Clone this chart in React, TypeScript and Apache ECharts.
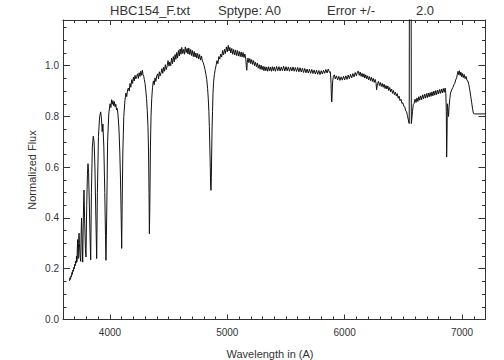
import React, { useEffect, useRef } from "react";
import * as echarts from "echarts";

// ---- Data (wavelength in Å, normalized flux) ----
const balmerSeries: [number, number][] = [
  [3655, 0.152], [3660, 0.165], [3664, 0.158], [3668, 0.172], [3672, 0.168], [3676, 0.185],
  [3680, 0.178], [3684, 0.195], [3688, 0.19], [3692, 0.205], [3696, 0.2], [3700, 0.218],
  [3704, 0.212], [3708, 0.23], [3712, 0.222], [3716, 0.25], [3719, 0.228], [3722, 0.28],
  [3725, 0.315], [3729, 0.24], [3733, 0.3], [3737, 0.34], [3740, 0.3], [3745, 0.25],
  [3751, 0.229], [3754, 0.32], [3758, 0.4], [3762, 0.33], [3766, 0.25], [3768, 0.226],
  [3772, 0.36], [3776, 0.47], [3779, 0.51], [3785, 0.38], [3791, 0.28], [3796, 0.246],
  [3802, 0.45], [3808, 0.57], [3813, 0.614], [3818, 0.58], [3826, 0.42], [3832, 0.3],
  [3836, 0.235], [3842, 0.5], [3850, 0.68], [3858, 0.722], [3865, 0.7], [3872, 0.6],
  [3880, 0.4], [3887, 0.24], [3893, 0.5], [3902, 0.72], [3912, 0.8], [3921, 0.818],
  [3928, 0.79], [3934, 0.74], [3940, 0.77], [3948, 0.68], [3956, 0.5], [3962, 0.33],
  [3966, 0.233], [3972, 0.4], [3980, 0.7], [3990, 0.81], [4001, 0.85], [4008, 0.835],
  [4014, 0.866], [4020, 0.848], [4026, 0.862], [4032, 0.842], [4038, 0.858], [4044, 0.838],
  [4050, 0.848], [4056, 0.826], [4062, 0.832], [4068, 0.81], [4077, 0.75], [4084, 0.66],
  [4090, 0.55], [4096, 0.4], [4100, 0.28], [4104, 0.45], [4110, 0.66], [4118, 0.8],
];

const blueContinuum: [number, number][] = [
  [4128, 0.864], [4136, 0.892], [4143, 0.878], [4150, 0.905], [4157, 0.912], [4164, 0.9],
  [4171, 0.93], [4178, 0.915], [4186, 0.945], [4193, 0.93], [4200, 0.955], [4207, 0.94],
  [4214, 0.962], [4221, 0.948], [4228, 0.958], [4235, 0.968], [4242, 0.95], [4249, 0.972],
  [4256, 0.958], [4263, 0.978], [4270, 0.962], [4276, 0.982], [4282, 0.965], [4288, 0.958],
  [4293, 0.945], [4299, 0.93], [4306, 0.9], [4312, 0.87], [4318, 0.824], [4324, 0.76],
  [4329, 0.66], [4333, 0.5], [4336, 0.338], [4340, 0.45], [4345, 0.68], [4350, 0.8],
  [4356, 0.87], [4363, 0.915], [4370, 0.94], [4377, 0.925], [4384, 0.952], [4391, 0.938],
  [4399, 0.96], [4407, 0.968], [4414, 0.948], [4421, 0.976], [4428, 0.96], [4436, 0.972],
  [4443, 0.988], [4450, 0.97], [4458, 0.994], [4465, 0.978], [4472, 1.004], [4480, 0.985],
  [4488, 1.0], [4495, 1.02], [4503, 0.998], [4510, 1.014], [4518, 1.0], [4525, 1.03],
  [4533, 1.008], [4540, 1.036], [4548, 1.015], [4555, 1.044], [4562, 1.025], [4569, 1.052],
  [4576, 1.03], [4584, 1.06], [4591, 1.038], [4598, 1.066], [4605, 1.045], [4612, 1.072],
  [4620, 1.048], [4628, 1.064], [4635, 1.045], [4642, 1.074], [4650, 1.052], [4658, 1.068],
  [4665, 1.046], [4672, 1.07], [4680, 1.044], [4688, 1.064], [4695, 1.04], [4702, 1.06],
  [4710, 1.036], [4718, 1.056], [4725, 1.034], [4732, 1.05], [4740, 1.03], [4748, 1.048],
  [4756, 1.026], [4764, 1.044], [4772, 1.022], [4780, 1.038], [4788, 1.018], [4795, 1.012],
  [4802, 1.0], [4810, 0.985], [4818, 0.965], [4825, 0.945], [4832, 0.91], [4838, 0.87],
  [4843, 0.82], [4847, 0.76], [4851, 0.68], [4855, 0.6], [4858, 0.53], [4861, 0.509],
  [4864, 0.56], [4867, 0.66], [4870, 0.75], [4874, 0.82], [4878, 0.89], [4883, 0.935],
  [4890, 0.965], [4897, 0.985], [4904, 1.0], [4912, 1.02], [4920, 1.008], [4928, 1.036],
  [4936, 1.026], [4944, 1.046], [4952, 1.034], [4960, 1.06], [4968, 1.042], [4976, 1.064],
  [4984, 1.048], [4992, 1.074], [5000, 1.055], [5008, 1.08], [5015, 1.058], [5022, 1.072],
  [5030, 1.05], [5038, 1.068], [5046, 1.045], [5054, 1.064], [5062, 1.042], [5070, 1.062],
  [5078, 1.04], [5086, 1.06], [5094, 1.038], [5102, 1.056], [5110, 1.036], [5118, 1.054],
  [5126, 1.034], [5134, 1.052], [5142, 1.032], [5150, 1.046], [5158, 1.025], [5163, 0.99],
  [5166, 0.982], [5170, 1.012], [5176, 1.03], [5184, 1.012], [5192, 1.028],
];

const greenContinuum: [number, number][] = [
  [5200, 1.008], [5208, 1.024], [5216, 1.005], [5224, 1.02], [5232, 1.0], [5240, 1.014],
  [5248, 0.996], [5256, 1.01], [5264, 0.99], [5272, 1.004], [5280, 0.986], [5288, 1.002],
  [5296, 0.984], [5304, 0.998], [5312, 0.98], [5320, 0.996], [5328, 0.98], [5336, 0.995],
  [5344, 0.978], [5352, 0.996], [5360, 0.98], [5368, 0.994], [5376, 0.978], [5384, 0.996],
  [5392, 0.98], [5400, 0.995], [5410, 0.978], [5420, 0.997], [5430, 0.98], [5440, 0.996],
  [5450, 0.979], [5460, 0.995], [5470, 0.98], [5480, 0.998], [5490, 0.979], [5500, 0.996],
  [5510, 0.98], [5520, 0.995], [5530, 0.978], [5540, 0.994], [5550, 0.979], [5560, 0.995],
  [5570, 0.978], [5580, 0.993], [5590, 0.977], [5600, 0.993], [5610, 0.976], [5620, 0.992],
  [5630, 0.975], [5640, 0.99], [5650, 0.973], [5660, 0.989], [5670, 0.972], [5680, 0.987],
  [5690, 0.971], [5700, 0.986], [5710, 0.97], [5720, 0.985], [5730, 0.969], [5740, 0.983],
  [5750, 0.967], [5760, 0.982], [5770, 0.966], [5780, 0.981], [5790, 0.965], [5800, 0.98],
  [5810, 0.967], [5820, 0.982], [5830, 0.97], [5840, 0.985], [5850, 0.971], [5860, 0.987],
  [5870, 0.974], [5878, 0.976], [5884, 0.93], [5888, 0.86], [5891, 0.857], [5894, 0.9],
  [5898, 0.94], [5904, 0.958], [5912, 0.964], [5920, 0.948], [5930, 0.96], [5940, 0.944],
  [5950, 0.958], [5960, 0.942], [5970, 0.956], [5980, 0.943], [5990, 0.958], [6000, 0.944],
  [6010, 0.96], [6020, 0.946], [6030, 0.963], [6040, 0.949], [6050, 0.966], [6060, 0.952],
  [6070, 0.969], [6080, 0.956], [6090, 0.973], [6100, 0.96], [6110, 0.977], [6117, 0.978],
];

const redContinuum: [number, number][] = [
  [6124, 0.962], [6132, 0.975], [6140, 0.958], [6148, 0.97], [6156, 0.955], [6164, 0.968],
  [6172, 0.951], [6180, 0.964], [6188, 0.948], [6196, 0.96], [6204, 0.944], [6212, 0.957],
  [6220, 0.941], [6228, 0.954], [6236, 0.938], [6244, 0.95], [6252, 0.934], [6260, 0.946],
  [6268, 0.93], [6272, 0.905], [6276, 0.903], [6280, 0.93], [6288, 0.938], [6296, 0.922],
  [6304, 0.934], [6312, 0.918], [6320, 0.93], [6328, 0.915], [6336, 0.927], [6344, 0.91],
  [6352, 0.922], [6360, 0.908], [6368, 0.92], [6376, 0.902], [6384, 0.914], [6392, 0.897],
  [6400, 0.908], [6408, 0.891], [6416, 0.902], [6424, 0.886], [6432, 0.896], [6440, 0.881],
  [6448, 0.89], [6456, 0.872], [6464, 0.88], [6472, 0.862], [6480, 0.868], [6488, 0.851],
  [6496, 0.854], [6504, 0.84], [6512, 0.838], [6520, 0.822], [6528, 0.818], [6535, 0.803],
  [6541, 0.79], [6546, 0.778], [6550, 0.772],
];

const hAlphaEmission: [number, number][] = [
  [6552, 1.5], [6566, 1.5],
];

const farRed: [number, number][] = [
  [6568, 0.772], [6572, 0.79], [6578, 0.82], [6585, 0.848], [6592, 0.852], [6600, 0.868],
  [6608, 0.855], [6616, 0.873], [6624, 0.859], [6632, 0.878], [6640, 0.864], [6648, 0.881],
  [6656, 0.866], [6664, 0.885], [6672, 0.87], [6680, 0.888], [6688, 0.872], [6696, 0.89],
  [6704, 0.874], [6712, 0.892], [6720, 0.877], [6728, 0.894], [6736, 0.879], [6744, 0.897],
  [6752, 0.881], [6760, 0.9], [6768, 0.884], [6776, 0.902], [6784, 0.886], [6792, 0.904],
  [6800, 0.889], [6808, 0.906], [6816, 0.891], [6824, 0.908], [6832, 0.893], [6840, 0.91],
  [6848, 0.895], [6856, 0.912], [6862, 0.89], [6866, 0.82], [6869, 0.64], [6872, 0.72],
  [6875, 0.85], [6880, 0.83], [6885, 0.8], [6890, 0.84], [6896, 0.87], [6902, 0.892],
  [6908, 0.9], [6915, 0.908], [6922, 0.914], [6930, 0.924], [6938, 0.93], [6946, 0.944],
  [6954, 0.952], [6960, 0.966], [6966, 0.978], [6972, 0.964], [6978, 0.98], [6984, 0.962],
  [6990, 0.975], [6996, 0.957], [7002, 0.97], [7010, 0.953], [7018, 0.966], [7026, 0.949],
  [7034, 0.958], [7042, 0.942], [7050, 0.94], [7058, 0.925], [7066, 0.905], [7074, 0.88],
  [7082, 0.855], [7090, 0.83], [7097, 0.812], [7105, 0.81], [7200, 0.81],
];

const X_MAJOR = [4000, 5000, 6000, 7000];
const Y_MAJOR = [0, 0.2, 0.4, 0.6, 0.8, 1.0];
const X_MIN = 3600;
const X_MAX = 7200;
const Y_MIN = 0;
const Y_MAX = 1.18;

const TITLE_FILE = "HBC154_F.txt";
const TITLE_TYPE = "Sptype: A0";
const TITLE_ERR = "Error +/-";
const TITLE_ERR_VAL = "2.0";
const X_NAME = "Wavelength in (A)";
const Y_NAME = "Normalized Flux";

const FONT = "'Liberation Sans', Arial, sans-serif";
const AX = "#333";
const TXT = "#333";

export default function App() {
  const ref = useRef<HTMLDivElement>(null);
  useEffect(() => {
    if (!ref.current) return;
    const chart = echarts.init(ref.current, undefined, { renderer: "svg" });
    const spectrum = [
      ...balmerSeries,
      ...blueContinuum,
      ...greenContinuum,
      ...redContinuum,
      ...hAlphaEmission,
      ...farRed,
    ];
    const baseX = {
      type: "value" as const,
      min: X_MIN,
      max: X_MAX,
      splitLine: { show: false },
      axisLine: { show: true, onZero: false, lineStyle: { color: AX, width: 1 } },
    };
    const baseY = {
      type: "value" as const,
      min: Y_MIN,
      max: Y_MAX,
      splitLine: { show: false },
      axisLine: { show: true, onZero: false, lineStyle: { color: AX, width: 1 } },
    };
    chart.setOption({
      animation: false,
      backgroundColor: "#fff",
      grid: { left: 63, right: 18.5, top: 20, bottom: 40.5, containLabel: false },
      xAxis: [
        {
          ...baseX,
          position: "bottom",
          axisTick: { show: true, inside: true, length: 5, customValues: X_MAJOR, lineStyle: { color: AX } },
          axisLabel: {
            customValues: X_MAJOR,
            formatter: (v: number) => String(v),
            color: TXT,
            fontSize: 10,
            fontFamily: FONT,
            margin: 8,
          },
        },
        {
          ...baseX,
          position: "top",
          axisTick: { show: true, inside: true, length: 5, customValues: X_MAJOR, lineStyle: { color: AX } },
          axisLabel: { show: false },
        },
        {
          ...baseX,
          position: "bottom",
          interval: 100,
          axisLine: { show: false, onZero: false },
          axisTick: { show: true, inside: true, length: 3, lineStyle: { color: AX } },
          axisLabel: { show: false },
        },
        {
          ...baseX,
          position: "top",
          interval: 100,
          axisLine: { show: false, onZero: false },
          axisTick: { show: true, inside: true, length: 3, lineStyle: { color: AX } },
          axisLabel: { show: false },
        },
      ],
      yAxis: [
        {
          ...baseY,
          position: "left",
          axisTick: { show: true, inside: true, length: 7, customValues: Y_MAJOR, lineStyle: { color: AX } },
          axisLabel: {
            customValues: Y_MAJOR,
            formatter: (v: number) => v.toFixed(1),
            color: TXT,
            fontSize: 10,
            fontFamily: FONT,
            margin: 4,
          },
        },
        {
          ...baseY,
          position: "right",
          axisTick: { show: true, inside: true, length: 7, customValues: Y_MAJOR, lineStyle: { color: AX } },
          axisLabel: { show: false },
        },
        {
          ...baseY,
          position: "left",
          interval: 0.05,
          axisLine: { show: false, onZero: false },
          axisTick: { show: true, inside: true, length: 3.5, lineStyle: { color: AX } },
          axisLabel: { show: false },
        },
        {
          ...baseY,
          position: "right",
          interval: 0.05,
          axisLine: { show: false, onZero: false },
          axisTick: { show: true, inside: true, length: 3.5, lineStyle: { color: AX } },
          axisLabel: { show: false },
        },
      ],
      graphic: [
        { type: "text", left: 110, top: 4, style: { text: TITLE_FILE, fill: TXT, font: `13px ${FONT}` } },
        { type: "text", left: 218, top: 4, style: { text: TITLE_TYPE, fill: TXT, font: `13px ${FONT}` } },
        { type: "text", left: 327, top: 4, style: { text: TITLE_ERR, fill: TXT, font: `13px ${FONT}` } },
        { type: "text", left: 416, top: 4, style: { text: TITLE_ERR_VAL, fill: TXT, font: `13px ${FONT}` } },
        {
          type: "text",
          x: 270,
          y: 353.5,
          style: { text: X_NAME, fill: TXT, font: `11px ${FONT}`, align: "center", verticalAlign: "middle" },
        },
        {
          type: "text",
          x: 31.5,
          y: 170,
          rotation: Math.PI / 2,
          style: { text: Y_NAME, fill: TXT, font: `11px ${FONT}`, align: "center", verticalAlign: "middle" },
        },
      ],
      series: [
        {
          type: "line",
          xAxisIndex: 0,
          yAxisIndex: 0,
          data: spectrum,
          showSymbol: false,
          symbol: "none",
          clip: true,
          lineStyle: { color: "#111", width: 1 },
        },
      ],
    });
    return () => chart.dispose();
  }, []);
  return (
    <div
      ref={ref}
      style={{ position: "absolute", left: 0, top: 0, width: 504, height: 360 }}
    />
  );
}
